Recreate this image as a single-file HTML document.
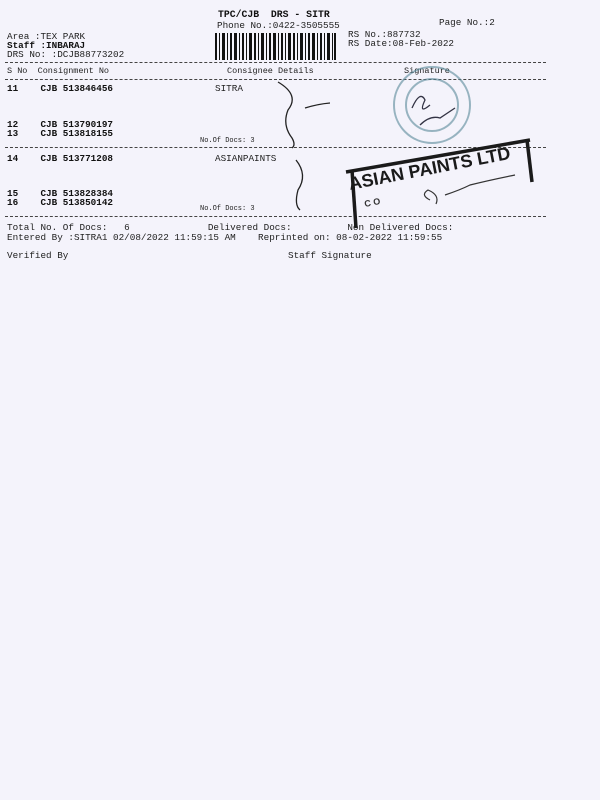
<!DOCTYPE html>
<html><head><meta charset="utf-8"><style>
html,body{margin:0;padding:0}
body{width:600px;height:800px;background:#f4f3fb;position:relative;overflow:hidden;font-family:"Liberation Mono",monospace;font-size:9.3px;color:#222}
.t{position:absolute;white-space:pre;line-height:1}
.b{font-weight:bold;color:#111}
.s{font-size:7px}
.d{position:absolute;left:5px;width:541px;border-top:1px dashed #444;height:0}
</style></head><body>
<div class="t b" style="left:218px;top:10px;font-size:9.8px">TPC/CJB  DRS - SITR</div>
<div class="t" style="left:217px;top:21px">Phone No.:0422-3505555</div>
<div class="t" style="left:439px;top:18px">Page No.:2</div>
<div class="t" style="left:7px;top:32px">Area :TEX PARK</div>
<div class="t b" style="left:7px;top:41px">Staff :INBARAJ</div>
<div class="t" style="left:7px;top:50px">DRS No: :DCJB88773202</div>
<div class="t" style="left:348px;top:30px">RS No.:887732</div>
<div class="t" style="left:348px;top:39px">RS Date:08-Feb-2022</div>
<svg style="position:absolute;left:215px;top:33px" width="121" height="27">
<g fill="#111">
<rect x="0" y="0" width="2" height="27"/><rect x="4" y="0" width="1" height="27"/><rect x="7" y="0" width="3" height="27"/><rect x="12" y="0" width="1" height="27"/><rect x="15" y="0" width="2" height="27"/><rect x="19" y="0" width="3" height="27"/><rect x="24" y="0" width="1" height="27"/><rect x="27" y="0" width="2" height="27"/><rect x="31" y="0" width="1" height="27"/><rect x="34" y="0" width="3" height="27"/><rect x="39" y="0" width="2" height="27"/><rect x="43" y="0" width="1" height="27"/><rect x="46" y="0" width="3" height="27"/><rect x="51" y="0" width="1" height="27"/><rect x="54" y="0" width="2" height="27"/><rect x="58" y="0" width="3" height="27"/><rect x="63" y="0" width="1" height="27"/><rect x="66" y="0" width="2" height="27"/><rect x="70" y="0" width="1" height="27"/><rect x="73" y="0" width="3" height="27"/><rect x="78" y="0" width="2" height="27"/><rect x="82" y="0" width="1" height="27"/><rect x="85" y="0" width="3" height="27"/><rect x="90" y="0" width="1" height="27"/><rect x="93" y="0" width="2" height="27"/><rect x="97" y="0" width="3" height="27"/><rect x="102" y="0" width="1" height="27"/><rect x="105" y="0" width="2" height="27"/><rect x="109" y="0" width="1" height="27"/><rect x="112" y="0" width="3" height="27"/><rect x="117" y="0" width="1" height="27"/><rect x="119" y="0" width="2" height="27"/>
</g></svg>
<div class="d" style="top:62px"></div>
<div class="t" style="left:7px;top:67px;font-size:8.5px">S No  Consignment No</div>
<div class="t" style="left:227px;top:67px;font-size:8.5px">Consignee Details</div>
<div class="t" style="left:404px;top:67px;font-size:8.5px">Signature</div>
<div class="d" style="top:79px"></div>
<div class="t b" style="left:7px;top:84px">11    CJB 513846456</div>
<div class="t" style="left:215px;top:84px">SITRA</div>
<div class="t b" style="left:7px;top:120px">12    CJB 513790197</div>
<div class="t b" style="left:7px;top:129px">13    CJB 513818155</div>
<div class="t s" style="left:200px;top:138px">No.Of Docs: 3</div>
<div class="d" style="top:147px"></div>
<div class="t b" style="left:7px;top:154px">14    CJB 513771208</div>
<div class="t" style="left:215px;top:154px">ASIANPAINTS</div>
<div class="t b" style="left:7px;top:189px">15    CJB 513828384</div>
<div class="t b" style="left:7px;top:198px">16    CJB 513850142</div>
<div class="t s" style="left:200px;top:206px">No.Of Docs: 3</div>
<div class="d" style="top:216px"></div>
<div class="t" style="left:7px;top:223px">Total No. Of Docs:   6              Delivered Docs:          Non Delivered Docs:</div>
<div class="t" style="left:7px;top:233px">Entered By :SITRA1 02/08/2022 11:59:15 AM    Reprinted on: 08-02-2022 11:59:55</div>
<div class="t" style="left:7px;top:251px">Verified By</div>
<div class="t" style="left:288px;top:251px">Staff Signature</div>
<svg style="position:absolute;left:0;top:0" width="600" height="300">
<g fill="none" stroke="#222" stroke-width="1.3">
<path d="M278 82 Q300 95 288 110 Q282 125 292 138 Q296 145 292 148"/>
<path d="M305 108 Q318 104 330 103"/>
<path d="M296 160 Q308 175 298 190 Q294 205 300 210"/>
</g>
<g fill="none" stroke="#5a8a9a" stroke-width="2" opacity="0.6">
<circle cx="432" cy="105" r="38"/><circle cx="432" cy="105" r="26"/>
</g>
<g fill="none" stroke="#334" stroke-width="1.3">
<path d="M412 108 Q420 90 425 100 Q418 115 430 105"/>
<path d="M420 125 Q430 115 440 118 L455 108"/>
</g>
<g stroke="#1a1a1a" stroke-width="3.5" fill="none">
<path d="M346 172 L530 140"/>
<path d="M352 170 L356 228"/>
<path d="M527 140 L532 182"/>
</g>
<text x="350" y="190" transform="rotate(-11 350 190)" font-family="Liberation Sans,sans-serif" font-weight="bold" font-size="18" fill="#1a1a1a">ASIAN PAINTS LTD</text>
<path d="M430 200 Q420 195 428 190 Q440 195 436 204 M445 195 Q460 190 470 185 Q490 180 515 175" fill="none" stroke="#333" stroke-width="1.2"/>
<text x="365" y="207" font-family="Liberation Sans,sans-serif" font-weight="bold" font-size="9" fill="#333" transform="rotate(-11 365 207)">C O</text>
</svg>
</body></html>
